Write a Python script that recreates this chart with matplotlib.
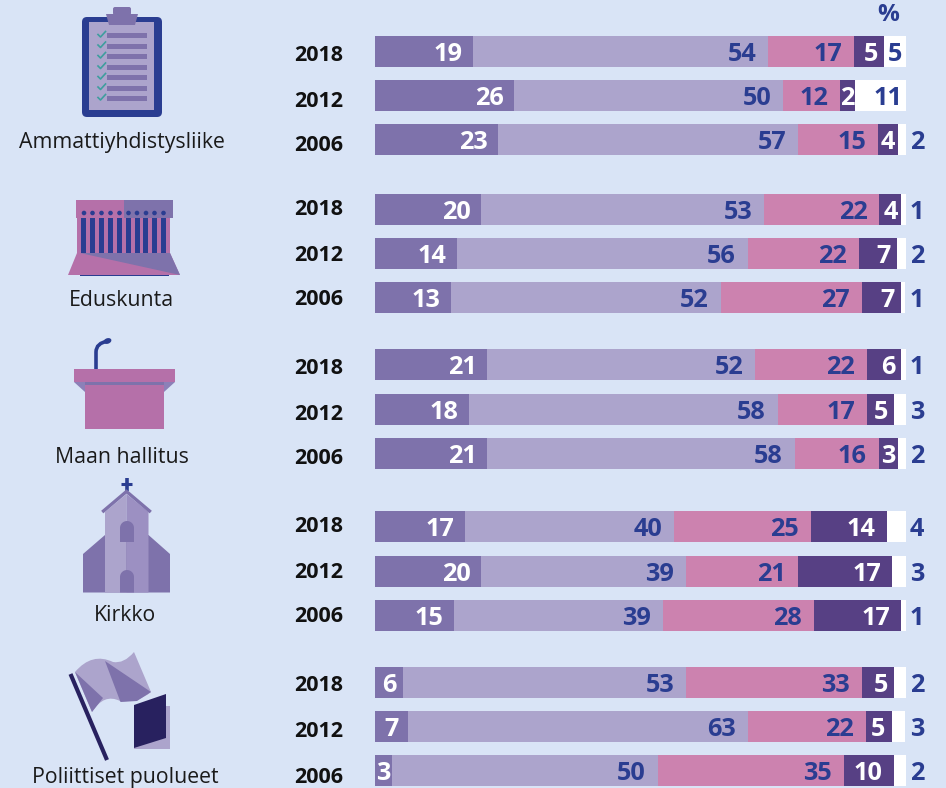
import numpy as np
import matplotlib
matplotlib.use('Agg')
import matplotlib.pyplot as plt
from matplotlib.patches import Polygon, Rectangle, FancyBboxPatch, Circle, Ellipse, PathPatch
from matplotlib.path import Path

plt.rcParams['font.family'] = ['Open Sans', 'DejaVu Sans']

# Data, top to bottom: bar shares in percent and the rounded numbers printed on them
years = ['2018', '2012', '2006'] * 5
share_a = [18.5, 26.2, 23.2, 20.0, 15.4, 14.3, 21.1, 17.7, 21.1, 16.9, 20.0, 14.9, 5.3, 6.2, 3.2]
share_b = [55.6, 50.7, 56.5, 53.3, 54.8, 50.8, 50.5, 58.2, 58.0, 39.4, 38.6, 39.4, 53.3, 64.0, 50.1]
share_c = [16.2, 10.7, 15.1, 21.7, 20.9, 26.6, 21.1, 16.8, 15.8, 25.8, 21.1, 28.4, 33.1, 22.2, 35.0]
share_d = [5.5, 2.8, 3.6, 4.1, 7.2, 7.3, 6.4, 5.1, 3.6, 14.3, 17.7, 16.4, 6.0, 4.9, 9.4]
share_e = [4.3, 9.6, 1.7, 0.9, 1.7, 0.9, 0.9, 2.3, 1.5, 3.6, 2.6, 0.9, 2.3, 2.6, 2.3]
label_a = [19, 26, 23, 20, 14, 13, 21, 18, 21, 17, 20, 15, 6, 7, 3]
label_b = [54, 50, 57, 53, 56, 52, 52, 58, 58, 40, 39, 39, 53, 63, 50]
label_c = [17, 12, 15, 22, 22, 27, 22, 17, 16, 25, 21, 28, 33, 22, 35]
label_d = [5, 2, 4, 4, 7, 7, 6, 5, 3, 14, 17, 17, 5, 5, 10]
label_e = [5, 11, 2, 1, 2, 1, 1, 3, 2, 4, 3, 1, 2, 3, 2]

# Layout in pixels of the 946x788 picture
W, H = 946, 788
BAR_LEFT, BAR_RIGHT = 375, 906
PX = (BAR_RIGHT - BAR_LEFT) / 100  # pixels per percent
row_top = [36, 80, 124, 194, 238, 282, 349, 394, 438, 511, 556, 600, 667, 711, 755]
year_y = [53, 99, 143, 207, 253, 297, 366, 412, 456, 524, 570, 614, 683, 729, 775]
BAR_H = 31

BG = '#D9E4F6'
C_A = '#7E72AB'
C_B = '#ACA4CC'
C_C = '#CC82AF'
C_D = '#574084'
C_PINK = '#B570A9'
BLUE = '#2A3D91'
NAVY = '#28215F'
VAL = 18.2

fig = plt.figure(figsize=(W / 100, H / 100), dpi=100, facecolor=BG)

# bars live in their own axes, x in percent
ax = fig.add_axes([BAR_LEFT / W, 0, (BAR_RIGHT - BAR_LEFT) / W, 1])
ax.set_xlim(0, 100)
ax.set_ylim(H, 0)
ax.axis('off')

y = np.array(row_top) + BAR_H / 2
left = np.zeros(15)
for vals, col in zip([share_a, share_b, share_c, share_d, share_e],
                     [C_A, C_B, C_C, C_D, 'white']):
    ax.barh(y, vals, left=left, height=BAR_H, color=col, linewidth=0)
    left += np.array(vals)


def val_text(x, yy, s, color, ha):
    ax.text(x, yy, str(s), color=color, ha=ha, va='center_baseline', fontsize=VAL,
            fontweight='bold', clip_on=False)


end_a = np.array(share_a)
end_b = end_a + share_b
end_c = end_b + share_c
end_d = end_c + share_d
for i in range(15):
    yy = y[i]
    # first segment: small ones get centred
    if label_a[i] < 10:
        val_text(end_a[i] / 2, yy, label_a[i], 'white', 'center')
    else:
        val_text(end_a[i] - 10.5 / PX, yy, label_a[i], 'white', 'right')
    val_text(end_b[i] - 12 / PX, yy, label_b[i], BLUE, 'right')
    val_text(end_c[i] - 12 / PX, yy, label_c[i], BLUE, 'right')
    # dark segment
    if label_d[i] >= 10:
        val_text(end_d[i] - 11 / PX, yy, label_d[i], 'white', 'right')
    elif share_d[i] * PX > 25:
        val_text(end_d[i] - 6 / PX, yy, label_d[i], 'white', 'right')
    else:
        val_text(end_d[i] - share_d[i] / 2, yy, label_d[i], 'white', 'center')
    # white rest: wide ones carry the number inside
    if label_e[i] >= 5 and i < 2:
        val_text(100 - 3.5 / PX, yy, label_e[i], BLUE, 'right')
    else:
        val_text(100 + 4 / PX, yy, label_e[i], BLUE, 'left')

# overlay in pixels for text outside the bars and the icons
ov = fig.add_axes([0, 0, 1, 1], zorder=-1)
ov.set_xlim(0, W)
ov.set_ylim(H, 0)
ov.axis('off')

for yr, yy in zip(years, year_y):
    ov.text(343.5, yy, yr, ha='right', va='center_baseline', fontsize=15.5, fontweight='bold',
            color='#111111')
ov.text(888, 12, '%', ha='center', va='center_baseline', fontsize=17.5, fontweight='bold', color=BLUE)

cat_names = ['Ammattiyhdistysliike', 'Eduskunta', 'Maan hallitus', 'Kirkko', 'Poliittiset puolueet']
cat_x = [121.5, 121.5, 122, 125, 125]
cat_y = [140, 298, 455, 613, 775]
for name, xx, yy in zip(cat_names, cat_x, cat_y):
    ov.text(xx, yy, name, ha='center', va='center_baseline', fontsize=15.3, color='#1A1A1A')


def poly(pts, color, z=2):
    ov.add_patch(Polygon(pts, closed=True, facecolor=color, edgecolor='none', zorder=z))


def rect(x0, y0, x1, y1, color, z=2):
    ov.add_patch(Rectangle((x0, y0), x1 - x0, y1 - y0, facecolor=color, edgecolor='none', zorder=z))


def arch(x0, x1, top, bottom, color, z=4):
    # small window or door with a round top
    r = (x1 - x0) / 2
    t = np.linspace(np.pi, 2 * np.pi, 20)
    pts = [(x0, bottom)] + [(x0 + r + r * np.cos(a), top + r + r * np.sin(a)) for a in t] + [(x1, bottom)]
    poly(pts, color, z)


# clipboard
ov.add_patch(FancyBboxPatch((86, 21), 72, 92, boxstyle='round,pad=4,rounding_size=5',
                            facecolor=BLUE, edgecolor='none', zorder=2))
rect(89, 22, 154, 110, C_B, 3)
poly([(106, 14), (138, 14), (135, 25), (109, 25)], C_A, 4)
ov.add_patch(FancyBboxPatch((114, 8), 16, 6, boxstyle='round,pad=1,rounding_size=2',
                            facecolor=C_A, edgecolor='none', zorder=4))
for ly in [35.5, 46, 56.5, 67, 77.5, 88, 98.5]:
    rect(107, ly - 2.5, 146.5, ly + 2.5, C_A, 4)
    ov.plot([98, 100.5, 105.5], [ly - 1, ly + 1.5, ly - 4], color='#3E9E9E', lw=1.2, zorder=4)

# parliament
rect(76, 200, 124, 218, C_PINK)
rect(124, 200, 173, 218, C_A)
rect(77, 218, 170, 254, C_PINK)
for cx, dx in zip([81, 90, 99, 108, 117, 126, 135, 143, 152, 161],
                  [84, 92.5, 101.5, 110.5, 119.5, 128.5, 137, 146, 154.5, 163.5]):
    rect(cx, 218, cx + 5, 253, BLUE, 3)
    ov.add_patch(Circle((dx, 213), 2.3, facecolor=BLUE, edgecolor='none', zorder=3))
poly([(77, 253), (170, 253), (180, 275), (68, 275)], C_PINK, 3)
poly([(80, 253), (170, 253), (180, 275)], C_A, 4)
rect(80, 275, 169, 276, BLUE, 3)

# podium
ov.add_patch(PathPatch(Path([(96, 369), (96, 352), (96, 343), (108, 341)],
                            [Path.MOVETO, Path.LINETO, Path.CURVE3, Path.CURVE3]),
                       facecolor='none', edgecolor=BLUE, lw=2.6, capstyle='round', zorder=2))
ov.add_patch(Ellipse((107.5, 341), 8, 5.5, angle=-20, facecolor=BLUE, edgecolor='none', zorder=2))
poly([(74, 382), (175, 382), (164, 392), (85, 392)], '#8C80B8', 2)
rect(74, 369, 175, 382, C_PINK, 3)
rect(85, 385, 164, 429, C_PINK, 3)
rect(85, 382, 164, 385, C_A, 3)

# church
ov.plot([126.5, 126.5], [478, 491], color=BLUE, lw=2.6, solid_capstyle='butt', zorder=3)
ov.plot([121, 132], [484, 484], color=BLUE, lw=2.2, solid_capstyle='butt', zorder=3)
poly([(83, 592.5), (83, 554), (105, 535), (148.5, 535), (170, 554), (170, 592.5)], C_A, 2)
poly([(105, 512), (126.5, 494), (126.5, 592.5), (105, 592.5)], C_B, 3)
poly([(126.5, 494), (148.5, 512), (148.5, 592.5), (126.5, 592.5)], '#9C90C2', 3)
ov.plot([103.5, 126.5, 149.5], [511, 491.5, 511], color=C_A, lw=2.4, zorder=4, solid_joinstyle='miter')
arch(120, 134, 521, 542, C_A)
arch(120, 134, 570, 592.5, C_A)

# flag and book
ov.plot([70.5, 107], [674, 760], color=NAVY, lw=3, solid_capstyle='butt', zorder=3)
flag_codes = [Path.MOVETO, Path.CURVE3, Path.CURVE3, Path.CURVE3, Path.CURVE3, Path.LINETO,
              Path.CURVE3, Path.CURVE3, Path.CURVE3, Path.CURVE3, Path.CLOSEPOLY]
flag_pts = [(75, 672), (92, 652), (113, 662), (124, 664), (134, 652), (151, 692),
            (138, 703), (120, 701), (104, 693), (92, 712), (75, 672)]
ov.add_patch(PathPatch(Path(flag_pts, flag_codes), facecolor=C_B, edgecolor='none', zorder=2))
poly([(105, 661), (151, 692), (137, 701), (120.5, 702)], C_A, 3)
poly([(75, 672), (103, 698), (92, 712)], C_A, 3)
rect(134, 706, 170, 749, C_B, 2)
poly([(134, 705), (166, 694), (166, 738), (134, 748)], NAVY, 3)

fig.savefig('out.png', dpi=100, facecolor=BG)
